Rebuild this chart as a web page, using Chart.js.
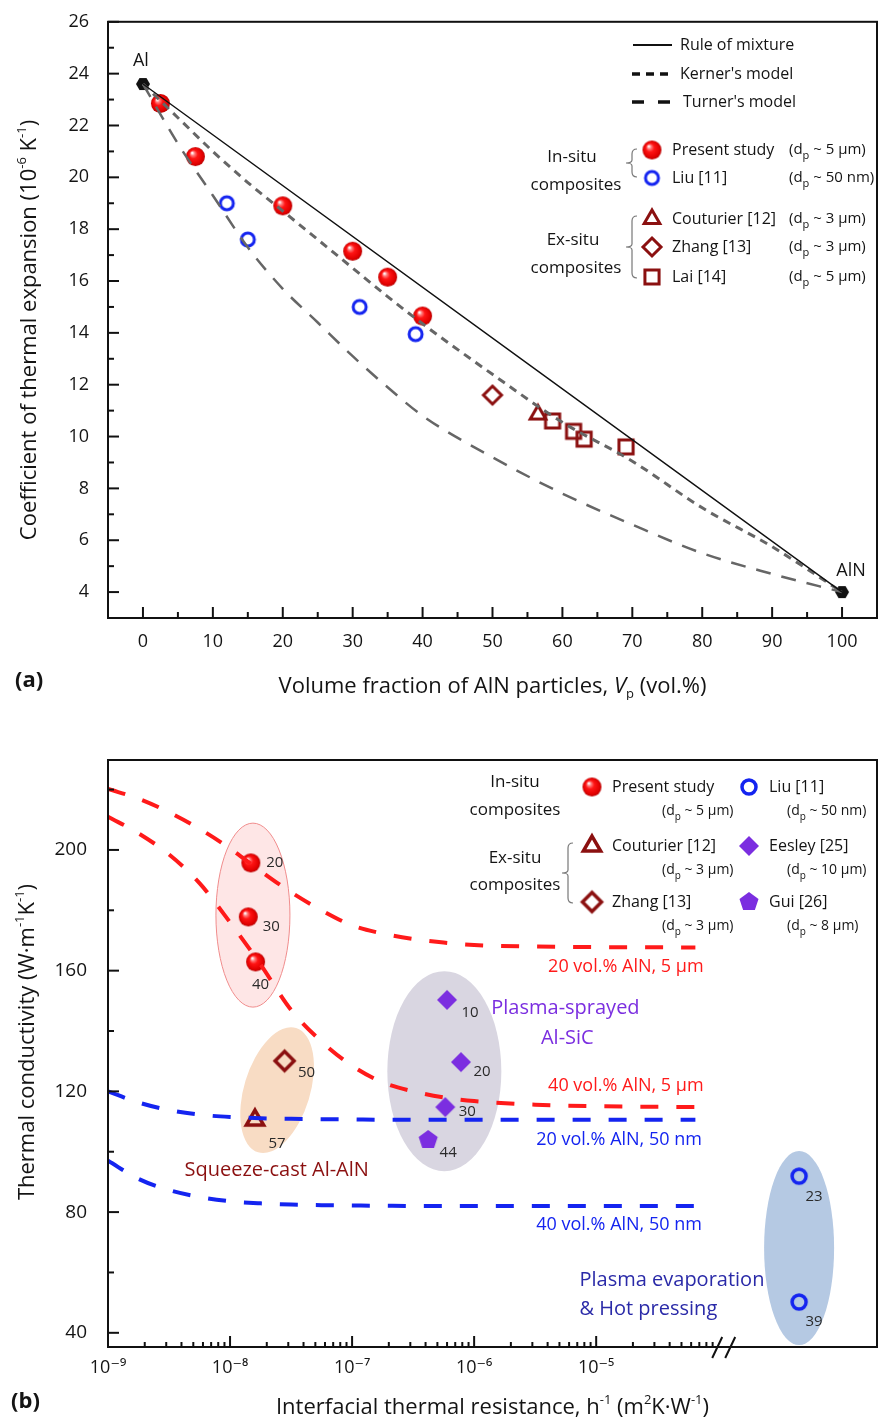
<!DOCTYPE html>
<html>
<head>
<meta charset="utf-8">
<title>AlN composites - CTE and thermal conductivity</title>
<script src="https://cdn.jsdelivr.net/npm/chart.js@4.4.1/dist/chart.umd.min.js"></script>
<style>
  html, body { margin: 0; padding: 0; background: #fff; }
  canvas { display: block; }
</style>
</head>
<body>
<canvas id="cteChart" width="884" height="700"></canvas>
<canvas id="kChart" width="884" height="725"></canvas>
<script>
var FONT = '"Open Sans", "DejaVu Sans", sans-serif';
var TXT = '#141414';
var RED = '#ff1a1a', DARKRED = '#8b1010', BLUE = '#1424f0', PURPLE = '#7b2ee0', NAVY = '#2a2aa8', GREY = '#666666';

// ---------- (a) CTE vs. AlN volume fraction ----------
var vpModel = [0, 5, 10, 15, 20, 25, 30, 35, 40, 50, 60, 70, 80, 90, 100];
var kernerCte = [23.6, 22.3, 21.0, 19.8, 18.7, 17.6, 16.5, 15.4, 14.35, 12.4, 10.55, 9.05, 7.25, 5.75, 4.0];
var turnerCte = [23.6, 21.3, 19.3, 17.3, 15.7, 14.4, 13.1, 11.9, 10.8, 9.2, 7.8, 6.6, 5.5, 4.7, 4.0];
var ruleVp = [0, 100];
var ruleCte = [23.6, 4.0];
var presentVp = [2.5, 7.5, 20, 30, 35, 40];
var presentCte = [22.85, 20.8, 18.9, 17.15, 16.15, 14.65];
var liuVp = [12, 15, 31, 39];
var liuCte = [19.0, 17.6, 15.0, 13.95];
var couturierVp = [56.5];
var couturierCte = [10.85];
var zhangVp = [50];
var zhangCte = [11.6];
var laiVp = [58.6, 61.6, 63.1, 69.1];
var laiCte = [10.6, 10.2, 9.9, 9.6];
var endVp = [0, 100];
var endCte = [23.6, 4.0];
var endNames = ['Al', 'AlN'];
var vpMajor = [0, 10, 20, 30, 40, 50, 60, 70, 80, 90, 100];
var vpMinor = [5, 15, 25, 35, 45, 55, 65, 75, 85, 95];
var cteMajor = [4, 6, 8, 10, 12, 14, 16, 18, 20, 22, 24, 26];
var cteMinor = [5, 7, 9, 11, 13, 15, 17, 19, 21, 23, 25];

// ---------- (b) thermal conductivity vs. interfacial resistance ----------
var hModel = [1e-9, 1.78e-9, 3.16e-9, 5.62e-9, 1e-8, 1.78e-8, 3.16e-8, 5.62e-8, 1e-7, 1.78e-7, 3.16e-7, 5.62e-7, 1e-6, 3.16e-6, 1e-5, 6.5e-5];
var k20um5 = [220.2, 217, 212.5, 207, 200.5, 193, 186, 180, 175, 172.3, 170.5, 169.3, 168.5, 168, 167.8, 167.7];
var k40um5 = [211, 205.5, 198.5, 189, 176, 162, 147, 136.5, 128.5, 123, 120, 118, 116.8, 115.6, 115.1, 114.8];
var k20nm50 = [120, 116.3, 113.8, 112.3, 111.5, 111.1, 110.9, 110.8, 110.7, 110.6, 110.6, 110.6, 110.6, 110.6, 110.6, 110.6];
var k40nm50 = [97, 91, 87.3, 85, 83.6, 82.9, 82.5, 82.3, 82.2, 82.1, 82, 82, 82, 82, 82, 82];
var presentH = [1.48e-8, 1.41e-8, 1.62e-8];
var presentK = [195.7, 177.8, 162.9];
var presentVol = ['20', '30', '40'];
var liuH = [4.6e-4, 4.6e-4];
var liuK = [91.9, 50.2];
var liuVol = ['23', '39'];
var couturierH = [1.6e-8];
var couturierK = [110.5];
var couturierVol = ['57'];
var zhangH = [2.8e-8];
var zhangK = [130.1];
var zhangVol = ['50'];
var eesleyH = [6.0e-7, 7.8e-7, 5.8e-7];
var eesleyK = [150.3, 129.7, 114.8];
var eesleyVol = ['10', '20', '30'];
var guiH = [4.2e-7];
var guiK = [103.9];
var guiVol = ['44'];
var hMajor = [1e-9, 1e-8, 1e-7, 1e-6, 1e-5];
var hTickLabels = ['10\u207B\u2079', '10\u207B\u2078', '10\u207B\u2077', '10\u207B\u2076', '10\u207B\u2075'];
var hMinorSteps = [2, 3, 4, 5, 6, 7, 8, 9];
var hBreak = 1e-4;
var kMajor = [40, 80, 120, 160, 200];
var kMinor = [60, 100, 140, 180, 220];

// ---------- helpers ----------
function fnt(size, style) { return (style ? style + ' ' : '500 ') + size + 'px ' + FONT; }

function rich(ctx, parts, x, y, align) {
  var w = 0;
  parts.forEach(function (p) { ctx.font = p[1]; w += ctx.measureText(p[0]).width; });
  var cx = align === 'center' ? x - w / 2 : x;
  ctx.textAlign = 'left';
  ctx.textBaseline = 'middle';
  parts.forEach(function (p) {
    ctx.font = p[1];
    ctx.fillText(p[0], cx, y + (p[2] || 0));
    cx += ctx.measureText(p[0]).width;
  });
}

function dpParts(rest, size) {
  return [['(d', fnt(size)], ['p', fnt(size - 4), 6], [' ~ ' + rest + ')', fnt(size)]];
}

function ball(r) {
  var c = document.createElement('canvas');
  c.width = c.height = 2 * r + 2;
  var g = c.getContext('2d'), m = r + 1;
  var grad = g.createRadialGradient(m - r * 0.35, m - r * 0.4, r * 0.05, m, m, r);
  grad.addColorStop(0, '#ffffff');
  grad.addColorStop(0.18, '#ff7a7a');
  grad.addColorStop(0.42, '#ff1414');
  grad.addColorStop(0.85, '#e00000');
  grad.addColorStop(1, '#b40000');
  g.fillStyle = grad;
  g.beginPath();
  g.arc(m, m, r, 0, 2 * Math.PI);
  g.fill();
  return c;
}

function marker(shape, r, color, lw) {
  var pad = Math.ceil(lw || 0) + 2;
  var c = document.createElement('canvas');
  c.width = c.height = 2 * (r + pad);
  var g = c.getContext('2d'), m = r + pad;
  g.beginPath();
  if (shape === 'circle') {
    g.arc(m, m, r, 0, 2 * Math.PI);
  } else {
    var n = { triangle: 3, diamond: 4, square: 4, pentagon: 5, hexagon: 6 }[shape];
    var start = { triangle: -90, diamond: -90, square: -45, pentagon: -90, hexagon: 0 }[shape];
    for (var i = 0; i < n; i++) {
      var ang = (start + i * 360 / n) * Math.PI / 180;
      var px = m + r * Math.cos(ang), py = m + r * Math.sin(ang);
      if (i) g.lineTo(px, py); else g.moveTo(px, py);
    }
    g.closePath();
  }
  if (!lw) { g.fillStyle = color; g.fill(); }
  else { g.strokeStyle = color; g.lineWidth = lw; g.lineJoin = 'miter'; g.stroke(); }
  return c;
}

var mk = {
  ball: ball(9.5),
  liuA: marker('circle', 6.5, BLUE, 3),
  liuB: marker('circle', 7, BLUE, 3.5),
  coutA: marker('triangle', 9, DARKRED, 3),
  coutB: marker('triangle', 10, DARKRED, 3.5),
  zhangA: marker('diamond', 9, DARKRED, 3),
  zhangB: marker('diamond', 9.5, DARKRED, 3.5),
  laiA: marker('square', 10, DARKRED, 3),
  hex: marker('hexagon', 7, '#111'),
  eesley: marker('diamond', 10, PURPLE),
  gui: marker('pentagon', 10, PURPLE)
};

function pts(xs, ys) { return xs.map(function (x, i) { return { x: x, y: ys[i] }; }); }

function curve(xs, ys, color, width, dash) {
  return {
    data: pts(xs, ys), showLine: true, borderColor: color, borderWidth: width,
    borderDash: dash, pointRadius: 0, cubicInterpolationMode: 'monotone', fill: false
  };
}

function scatter(xs, ys, img, labels, offsets) {
  return {
    data: pts(xs, ys), showLine: false, pointStyle: img, pointRadius: 6,
    numLabels: labels, labelOffsets: offsets
  };
}

function vTick(ctx, x, y, len) { ctx.beginPath(); ctx.moveTo(x, y); ctx.lineTo(x, y - len); ctx.stroke(); }
function hTick(ctx, x, y, len) { ctx.beginPath(); ctx.moveTo(x, y); ctx.lineTo(x + len, y); ctx.stroke(); }

function bracket(ctx, x, top, bottom) {
  var mid = (top + bottom) / 2;
  ctx.save();
  ctx.strokeStyle = '#777';
  ctx.lineWidth = 1.2;
  ctx.beginPath();
  ctx.moveTo(x + 5, top); ctx.quadraticCurveTo(x, top, x, top + 5);
  ctx.lineTo(x, mid - 3); ctx.quadraticCurveTo(x, mid, x - 6, mid);
  ctx.quadraticCurveTo(x, mid, x, mid + 3);
  ctx.lineTo(x, bottom - 5); ctx.quadraticCurveTo(x, bottom, x + 5, bottom);
  ctx.stroke();
  ctx.restore();
}

function drawImg(ctx, img, x, y) { ctx.drawImage(img, x - img.width / 2, y - img.height / 2); }

function baseScale(extra) {
  var s = {
    grid: { display: false },
    border: { display: false },
    ticks: { autoSkip: false, maxRotation: 0, color: TXT }
  };
  for (var k in extra) s[k] = extra[k];
  return s;
}

// ---------- panel (a) decorations ----------
var panelA = {
  id: 'panelA',
  afterDraw: function (chart) {
    var ctx = chart.ctx, a = chart.chartArea, xs = chart.scales.x, ys = chart.scales.y;
    ctx.save();
    ctx.strokeStyle = '#111';
    ctx.lineWidth = 2;
    vpMajor.forEach(function (v) { vTick(ctx, xs.getPixelForValue(v), a.bottom, 11); });
    vpMinor.forEach(function (v) { vTick(ctx, xs.getPixelForValue(v), a.bottom, 6); });
    cteMajor.forEach(function (v) { hTick(ctx, a.left, ys.getPixelForValue(v), 11); });
    cteMinor.forEach(function (v) { hTick(ctx, a.left, ys.getPixelForValue(v), 6); });
    ctx.strokeRect(a.left, a.top, a.right - a.left, a.bottom - a.top);

    ctx.fillStyle = TXT;
    ctx.textBaseline = 'middle';
    ctx.textAlign = 'center';
    ctx.font = fnt(18);
    ctx.fillText(endNames[0], xs.getPixelForValue(endVp[0]) - 2, ys.getPixelForValue(endCte[0]) - 23);
    ctx.fillText(endNames[1], xs.getPixelForValue(endVp[1]) + 9, ys.getPixelForValue(endCte[1]) - 21);

    // axis titles
    rich(ctx, [['Volume fraction of AlN particles, ', fnt(22)], ['V', fnt(22, 'italic 500')],
      ['p', fnt(13), 7], [' (vol.%)', fnt(22)]], (a.left + a.right) / 2, 687, 'center');
    ctx.save();
    ctx.translate(30, 330);
    ctx.rotate(-Math.PI / 2);
    rich(ctx, [['Coefficient of thermal expansion (10', fnt(22)], ['-6', fnt(13), -8],
      [' K', fnt(22)], ['-1', fnt(13), -8], [')', fnt(22)]], 0, 0, 'center');
    ctx.restore();
    ctx.font = fnt(22, 'bold');
    ctx.textAlign = 'left';
    ctx.fillText('(a)', 15, 681);

    // legend: model lines
    ctx.strokeStyle = '#111';
    ctx.lineWidth = 2;
    ctx.beginPath(); ctx.moveTo(633, 45); ctx.lineTo(672, 45); ctx.stroke();
    ctx.lineWidth = 3.5;
    ctx.setLineDash([8, 6]);
    ctx.beginPath(); ctx.moveTo(632, 74); ctx.lineTo(670, 74); ctx.stroke();
    ctx.setLineDash([12, 14]);
    ctx.beginPath(); ctx.moveTo(632, 102); ctx.lineTo(671, 102); ctx.stroke();
    ctx.setLineDash([]);
    ctx.font = fnt(16);
    ctx.fillText('Rule of mixture', 680, 45);
    ctx.fillText("Kerner's model", 680, 74);
    ctx.fillText("Turner's model", 683, 102);

    // legend: data groups
    ctx.font = fnt(17);
    ctx.textAlign = 'center';
    ctx.fillText('In-situ', 572, 157);
    ctx.fillText('composites', 576, 185);
    ctx.fillText('Ex-situ', 573, 240);
    ctx.fillText('composites', 576, 268);
    bracket(ctx, 632, 149, 177);
    bracket(ctx, 632, 216, 278);
    var rows = [
      [mk.ball, 'Present study', '5 \u00B5m', 150],
      [mk.liuA, 'Liu [11]', '50 nm', 178],
      [mk.coutA, 'Couturier [12]', '3 \u00B5m', 219],
      [mk.zhangA, 'Zhang [13]', '3 \u00B5m', 247],
      [mk.laiA, 'Lai [14]', '5 \u00B5m', 277]
    ];
    rows.forEach(function (r) {
      drawImg(ctx, r[0], 652, r[3]);
      ctx.font = fnt(16);
      ctx.textAlign = 'left';
      ctx.fillText(r[1], 672, r[3]);
      rich(ctx, dpParts(r[2], 15), 789, r[3]);
    });
    ctx.restore();
  }
};

// ---------- panel (b) decorations ----------
var groupEllipses = [
  { x: 1.54e-8, y: 178.4, rx: 37, ry: 92, rot: 0, fill: 'rgba(250,165,165,0.28)', stroke: '#f08c8c' },
  { x: 2.43e-8, y: 120.4, rx: 33, ry: 65, rot: 17, fill: '#f8dcc4' },
  { x: 5.7e-7, y: 126.7, rx: 57, ry: 100, rot: 0, fill: '#d9d6e1' },
  { x: 4.6e-4, y: 68.1, rx: 35, ry: 97, rot: 0, fill: '#b5c9e3' }
];
var noteTexts = [
  { t: '20 vol.% AlN, 5 \u00B5m', x: 1.75e-5, y: 161.2, c: RED, s: 18 },
  { t: '40 vol.% AlN, 5 \u00B5m', x: 1.75e-5, y: 121.8, c: RED, s: 18 },
  { t: '20 vol.% AlN, 50 nm', x: 1.54e-5, y: 103.9, c: BLUE, s: 18 },
  { t: '40 vol.% AlN, 50 nm', x: 1.54e-5, y: 75.7, c: BLUE, s: 18 },
  { t: 'Plasma-sprayed', x: 5.6e-6, y: 147.6, c: PURPLE, s: 20 },
  { t: 'Al-SiC', x: 5.8e-6, y: 137.7, c: PURPLE, s: 20 },
  { t: 'Squeeze-cast Al-AlN', x: 2.41e-8, y: 93.9, c: DARKRED, s: 20 },
  { t: 'Plasma evaporation', x: 7.3e-6, y: 57.5, c: NAVY, s: 20, left: true },
  { t: '& Hot pressing', x: 7.3e-6, y: 47.9, c: NAVY, s: 20, left: true }
];

var panelB = {
  id: 'panelB',
  beforeDatasetsDraw: function (chart) {
    var ctx = chart.ctx, xs = chart.scales.x, ys = chart.scales.y;
    ctx.save();
    groupEllipses.forEach(function (e) {
      ctx.beginPath();
      ctx.ellipse(xs.getPixelForValue(e.x), ys.getPixelForValue(e.y), e.rx, e.ry, e.rot * Math.PI / 180, 0, 2 * Math.PI);
      ctx.fillStyle = e.fill;
      ctx.fill();
      if (e.stroke) { ctx.strokeStyle = e.stroke; ctx.lineWidth = 1; ctx.stroke(); }
    });
    ctx.restore();
  },
  afterDatasetsDraw: function (chart) {
    var ctx = chart.ctx, xs = chart.scales.x, ys = chart.scales.y;
    ctx.save();
    ctx.textBaseline = 'middle';
    ctx.textAlign = 'center';
    ctx.fillStyle = '#2a2a2a';
    ctx.font = fnt(15);
    chart.data.datasets.forEach(function (ds, i) {
      if (!ds.numLabels) return;
      chart.getDatasetMeta(i).data.forEach(function (el, j) {
        var off = ds.labelOffsets[j];
        ctx.fillText(ds.numLabels[j], el.x + off[0], el.y + off[1]);
      });
    });
    noteTexts.forEach(function (n) {
      ctx.fillStyle = n.c;
      ctx.font = fnt(n.s);
      ctx.textAlign = n.left ? 'left' : 'center';
      ctx.fillText(n.t, xs.getPixelForValue(n.x), ys.getPixelForValue(n.y));
    });
    ctx.restore();
  },
  afterDraw: function (chart) {
    var ctx = chart.ctx, a = chart.chartArea, xs = chart.scales.x, ys = chart.scales.y;
    ctx.save();
    ctx.strokeStyle = '#111';
    ctx.lineWidth = 2;
    hMajor.forEach(function (v) {
      vTick(ctx, xs.getPixelForValue(v), a.bottom, 11);
      hMinorSteps.forEach(function (m) { vTick(ctx, xs.getPixelForValue(v * m), a.bottom, 5); });
    });
    kMajor.forEach(function (v) { hTick(ctx, a.left, ys.getPixelForValue(v), 11); });
    kMinor.forEach(function (v) { hTick(ctx, a.left, ys.getPixelForValue(v), 6); });
    ctx.strokeRect(a.left, a.top, a.right - a.left, a.bottom - a.top);
    // axis break
    var xb = xs.getPixelForValue(hBreak);
    ctx.beginPath();
    ctx.moveTo(xb - 6, a.bottom + 11); ctx.lineTo(xb + 4, a.bottom - 10);
    ctx.moveTo(xb + 7, a.bottom + 11); ctx.lineTo(xb + 17, a.bottom - 10);
    ctx.stroke();

    ctx.fillStyle = TXT;
    rich(ctx, [['Interfacial thermal resistance, h', fnt(22)], ['-1', fnt(13), -8], [' (m', fnt(22)],
      ['2', fnt(13), -8], ['K\u00B7W', fnt(22)], ['-1', fnt(13), -8], [')', fnt(22)]],
      (a.left + a.right) / 2, 708, 'center');
    ctx.save();
    ctx.translate(28, 342);
    ctx.rotate(-Math.PI / 2);
    rich(ctx, [['Thermal conductivity (W\u00B7m', fnt(22)], ['-1', fnt(13), -8], ['K', fnt(22)],
      ['-1', fnt(13), -8], [')', fnt(22)]], 0, 0, 'center');
    ctx.restore();
    ctx.font = fnt(22, 'bold');
    ctx.textAlign = 'left';
    ctx.fillText('(b)', 11, 702);

    // legend
    ctx.font = fnt(17);
    ctx.textAlign = 'center';
    ctx.fillText('In-situ', 515, 82);
    ctx.fillText('composites', 515, 110);
    ctx.fillText('Ex-situ', 515, 158);
    ctx.fillText('composites', 515, 185);
    bracket(ctx, 568, 143, 203);
    var items = [
      [mk.ball, 'Present study', '5 \u00B5m', 592, 87, 662],
      [mk.liuB, 'Liu [11]', '50 nm', 749, 87, 787],
      [mk.coutB, 'Couturier [12]', '3 \u00B5m', 592, 146, 662],
      [mk.eesley, 'Eesley [25]', '10 \u00B5m', 749, 146, 787],
      [mk.zhangB, 'Zhang [13]', '3 \u00B5m', 592, 202, 662],
      [mk.gui, 'Gui [26]', '8 \u00B5m', 749, 202, 787]
    ];
    items.forEach(function (it) {
      drawImg(ctx, it[0], it[3], it[4]);
      ctx.font = fnt(16);
      ctx.textAlign = 'left';
      ctx.fillText(it[1], it[3] + 20, it[4]);
      rich(ctx, dpParts(it[2], 14), it[5], it[4] + 24);
    });
    ctx.restore();
  }
};

Chart.defaults.font.family = FONT;
Chart.defaults.font.weight = 500;

var chartA = new Chart(document.getElementById('cteChart'), {
  type: 'scatter',
  data: {
    datasets: [
      curve(ruleVp, ruleCte, '#111', 1.4, []),
      curve(vpModel, kernerCte, GREY, 3, [8, 6]),
      curve(vpModel, turnerCte, GREY, 2.5, [15, 11]),
      scatter(presentVp, presentCte, mk.ball),
      scatter(liuVp, liuCte, mk.liuA),
      scatter(zhangVp, zhangCte, mk.zhangA),
      scatter(couturierVp, couturierCte, mk.coutA),
      scatter(laiVp, laiCte, mk.laiA),
      scatter(endVp, endCte, mk.hex)
    ]
  },
  options: {
    responsive: false,
    animation: false,
    devicePixelRatio: 1,
    events: [],
    layout: { padding: { top: 21, right: 1, left: 0, bottom: 0 } },
    plugins: { legend: { display: false }, tooltip: { enabled: false } },
    scales: {
      x: baseScale({
        type: 'linear', min: -5, max: 105,
        afterBuildTicks: function (s) { s.ticks = vpMajor.map(function (v) { return { value: v }; }); },
        afterFit: function (s) { s.height = 82; },
        ticks: { autoSkip: false, maxRotation: 0, color: TXT, padding: 5, font: { size: 18 } }
      }),
      y: baseScale({
        type: 'linear', min: 3, max: 26,
        afterBuildTicks: function (s) { s.ticks = cteMajor.map(function (v) { return { value: v }; }); },
        afterFit: function (s) { s.width = 108; },
        ticks: { autoSkip: false, color: TXT, padding: 11, font: { size: 18 } }
      })
    }
  },
  plugins: [panelA]
});

var chartB = new Chart(document.getElementById('kChart'), {
  type: 'scatter',
  data: {
    datasets: [
      curve(hModel, k20um5, RED, 4, [18, 18]),
      curve(hModel, k40um5, RED, 4, [18, 18]),
      curve(hModel, k20nm50, BLUE, 4, [18, 18]),
      curve(hModel, k40nm50, BLUE, 4, [18, 18]),
      scatter(presentH, presentK, mk.ball, presentVol, [[24, 0], [23, 10], [5, 23]]),
      scatter(zhangH, zhangK, mk.zhangB, zhangVol, [[22, 12]]),
      scatter(couturierH, couturierK, mk.coutB, couturierVol, [[22, 24]]),
      scatter(eesleyH, eesleyK, mk.eesley, eesleyVol, [[23, 13], [21, 10], [22, 5]]),
      scatter(guiH, guiK, mk.gui, guiVol, [[20, 13]]),
      scatter(liuH, liuK, mk.liuB, liuVol, [[15, 21], [15, 20]])
    ]
  },
  options: {
    responsive: false,
    animation: false,
    devicePixelRatio: 1,
    events: [],
    layout: { padding: { top: 60, right: 1, left: 0, bottom: 0 } },
    plugins: { legend: { display: false }, tooltip: { enabled: false } },
    scales: {
      x: baseScale({
        type: 'logarithmic', min: 1e-9, max: 2e-3,
        afterBuildTicks: function (s) { s.ticks = hMajor.map(function (v) { return { value: v }; }); },
        afterFit: function (s) { s.height = 78; },
        ticks: {
          autoSkip: false, maxRotation: 0, color: TXT, padding: 2, font: { size: 18 },
          callback: function (v, i) { return hTickLabels[i]; }
        }
      }),
      y: baseScale({
        type: 'linear', min: 35.3, max: 229.8,
        afterBuildTicks: function (s) { s.ticks = kMajor.map(function (v) { return { value: v }; }); },
        afterFit: function (s) { s.width = 108; },
        ticks: { autoSkip: false, color: TXT, padding: 13, font: { size: 19 } }
      })
    }
  },
  plugins: [panelB]
});
</script>
</body>
</html>
